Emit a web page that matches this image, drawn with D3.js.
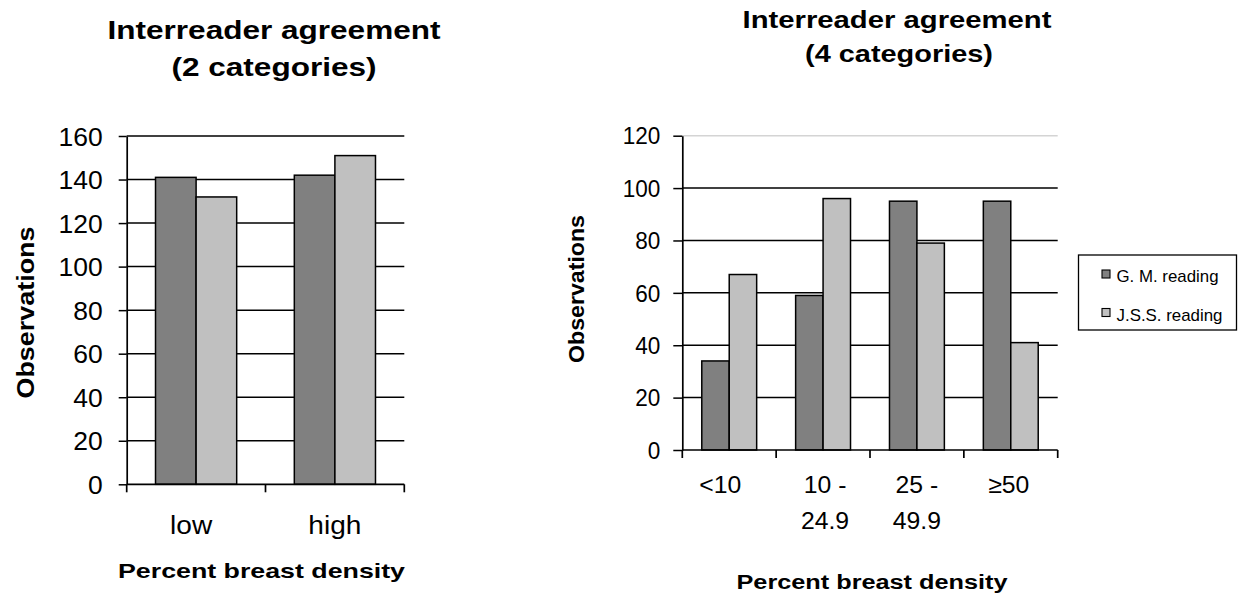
<!DOCTYPE html>
<html><head><meta charset="utf-8">
<script src="https://cdn.jsdelivr.net/npm/d3@7/dist/d3.min.js"></script>
<style>html,body{margin:0;padding:0;background:#fff;} text{font-family:"Liberation Sans",Arial,sans-serif;fill:#000;}</style>
</head><body>
<svg id="c" width="1240" height="601"></svg>
<script>
// ---- data ----
const series = ["G. M. reading", "J.S.S. reading"];
const categories2 = ["low", "high"];
const gm2 = [141, 142];
const jss2 = [132, 151];
const ticks2 = [0, 20, 40, 60, 80, 100, 120, 140, 160];

const categories4 = ["<10", "10 - 24.9", "25 - 49.9", "≥50"];
const gm4 = [34, 59, 95, 95];
const jss4 = [67, 96, 79, 41];
const ticks4 = [0, 20, 40, 60, 80, 100, 120];

const titleLines2 = ["Interreader agreement", "(2 categories)"];
const titleLines4 = ["Interreader agreement", "(4 categories)"];
const xTitle = "Percent breast density";
const yTitle = "Observations";

// ---- drawing ----
const colors = ["#808080", "#c0c0c0"];
const svg = d3.select("#c");
svg.append("rect").attr("width", 1240).attr("height", 601).attr("fill", "#fff");

function fit(sel, w) {
  sel.attr("textLength", w).attr("lengthAdjust", "spacingAndGlyphs");
}
function stretch(sel, f) {
  sel.each(function () {
    const l = this.getComputedTextLength();
    d3.select(this).attr("textLength", l * f).attr("lengthAdjust", "spacingAndGlyphs");
  });
}

function chart(o) {
  const g = svg.append("g");
  const x = d3.scaleBand().domain(o.cats).range([o.x0, o.x1]).padding(0);
  const y = d3.scaleLinear().domain([0, o.ymax]).range([o.yZero, o.yTop]);
  const gap = 1.42;
  const bw = x.bandwidth() / (2 + gap);
  const off = x.bandwidth() * gap / 2 / (2 + gap);

  // gridlines
  g.selectAll("line.grid").data(o.ticks.filter(t => t > 0)).join("line")
    .attr("x1", o.x0).attr("x2", o.x1)
    .attr("y1", d => y(d)).attr("y2", d => y(d))
    .attr("stroke", d => (o.lightTop && d === o.ymax) ? "#d4d4d4" : "#000")
    .attr("stroke-width", 1.5);

  // bars
  const vals = [o.a, o.b];
  vals.forEach((arr, si) => {
    g.selectAll("rect.s" + si).data(arr).join("rect")
      .attr("x", (d, i) => x(o.cats[i]) + off + si * bw)
      .attr("y", d => y(d))
      .attr("width", bw)
      .attr("height", d => y(0) - y(d))
      .attr("fill", colors[si])
      .attr("stroke", "#000").attr("stroke-width", 1.5);
  });

  // y axis
  const ya = g.append("g").attr("transform", `translate(${o.x0},0)`)
    .call(d3.axisLeft(y).tickValues(o.ticks).tickSizeInner(o.tickLen).tickSizeOuter(0).tickPadding(o.tickPad).tickFormat(d3.format("d")));
  ya.select(".domain").attr("stroke", "#000").attr("stroke-width", 1.7);
  ya.selectAll(".tick line").attr("stroke", "#000").attr("stroke-width", 1.5);
  ya.selectAll(".tick text").attr("font-size", o.tickFont).attr("dy", "0.36em").attr("fill", "#000");
  stretch(ya.selectAll(".tick text"), o.tickStretch);

  // x axis line and boundary ticks
  g.append("line").attr("x1", o.x0).attr("x2", o.x1).attr("y1", y(0)).attr("y2", y(0))
    .attr("stroke", "#000").attr("stroke-width", 1.7);
  const bounds = o.cats.map(c => x(c)).concat([x(o.cats[o.cats.length - 1]) + x.bandwidth()]);
  g.selectAll("line.xt").data(bounds).join("line")
    .attr("x1", d => d).attr("x2", d => d).attr("y1", y(0)).attr("y2", y(0) + 8)
    .attr("stroke", "#000").attr("stroke-width", 1.7);

  // x labels
  o.cats.forEach((c, i) => {
    const lines = c.includes(" - ") ? c.replace(" - ", " -|").split("|") : [c];
    lines.forEach((ln, li) => {
      const t = g.append("text").attr("x", x(c) + x.bandwidth() / 2 + (o.labelDx[i] || 0))
        .attr("y", o.labelY + li * o.labelLH).attr("text-anchor", "middle")
        .attr("font-size", o.labelFont).text(ln);
      stretch(t, o.labelStretch);
    });
  });

  // titles
  o.title.forEach((ln, i) => {
    const t = g.append("text").attr("x", o.titleX[i]).attr("y", o.titleY[i])
      .attr("text-anchor", "middle").attr("font-weight", "bold").attr("font-size", o.titleFont).text(ln);
    fit(t, o.titleW[i]);
  });
  const xt = g.append("text").attr("x", o.xtX).attr("y", o.xtY).attr("text-anchor", "middle")
    .attr("font-weight", "bold").attr("font-size", o.xtFont).text(xTitle);
  fit(xt, o.xtW);
  const yt = g.append("text").attr("transform", `translate(${o.ytX},${o.ytY}) rotate(-90)`)
    .attr("text-anchor", "middle").attr("font-weight", "bold").attr("font-size", o.ytFont).text(yTitle);
  fit(yt, o.ytW);
}

chart({
  cats: categories2, a: gm2, b: jss2, ticks: ticks2, ymax: 160,
  x0: 126.7, x1: 404.3, yTop: 136, yZero: 484.3,
  tickLen: 8, tickPad: 16, tickFont: 25, tickStretch: 1.06,
  labelY: 534, labelLH: 0, labelFont: 26, labelStretch: 1.08, labelDx: [-5, 0],
  title: titleLines2, titleX: [274, 274], titleY: [39, 76], titleW: [333, 205], titleFont: 26,
  xtX: 261.5, xtY: 578, xtW: 287, xtFont: 21,
  ytX: 34, ytY: 312.5, ytW: 172, ytFont: 23
});

chart({
  cats: categories4, a: gm4, b: jss4, ticks: ticks4, ymax: 120, lightTop: true,
  x0: 682.3, x1: 1057.7, yTop: 135.7, yZero: 450,
  tickLen: 9, tickPad: 13, tickFont: 23, tickStretch: 0.98,
  labelY: 493, labelLH: 36, labelFont: 24, labelStretch: 1.03, labelDx: [-9, 2, 0, -2],
  title: titleLines4, titleX: [897, 899], titleY: [28, 62], titleW: [309, 188], titleFont: 24,
  xtX: 872, xtY: 589, xtW: 271, xtFont: 20,
  ytX: 584, ytY: 289, ytW: 148, ytFont: 22
});

// legend
const lg = svg.append("g");
lg.append("rect").attr("x", 1078.5).attr("y", 255).attr("width", 158).attr("height", 75)
  .attr("fill", "#fff").attr("stroke", "#000").attr("stroke-width", 1.3);
series.forEach((s, i) => {
  lg.append("rect").attr("x", 1102).attr("y", 270 + i * 38.5).attr("width", 8).attr("height", 8)
    .attr("fill", colors[i]).attr("stroke", "#000").attr("stroke-width", 1.1);
  const t = lg.append("text").attr("x", 1116.5).attr("y", 282 + i * 38.5).attr("font-size", 17).text(s);
  fit(t, i === 0 ? 102 : 106);
});
</script>
</body></html>
